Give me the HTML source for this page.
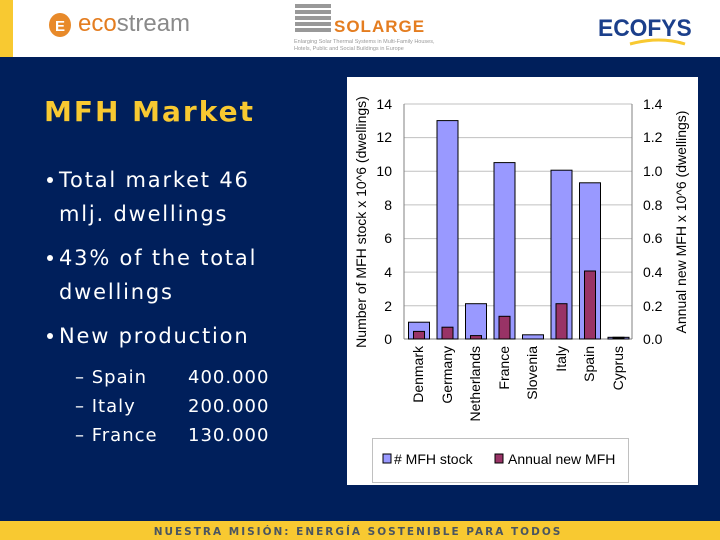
<!DOCTYPE html>
<html><head><meta charset="utf-8"><style>
body{margin:0;width:720px;height:540px;overflow:hidden;background:#001f5b}
svg{display:block}
</style></head><body>
<svg width="720" height="540" xmlns="http://www.w3.org/2000/svg" font-family="Liberation Sans, Arial, sans-serif">
<rect x="0" y="0" width="720" height="57" fill="#fff"/>
<rect x="0" y="0" width="13" height="57" fill="#f8c931"/>
<rect x="0" y="57" width="720" height="464" fill="#001f5b"/>
<rect x="0" y="521" width="720" height="19" fill="#f8c931"/>
<text x="358" y="535" text-anchor="middle" font-family="DejaVu Sans, sans-serif" font-weight="bold" font-size="10.5" letter-spacing="2" fill="#4a5560">NUESTRA MISIÓN:  ENERGÍA SOSTENIBLE PARA TODOS</text>
<!-- logos -->
<ellipse cx="60" cy="25" rx="11" ry="12" fill="#e88a2a"/>
<text x="55" y="31" font-size="15" font-weight="bold" fill="#fff">E</text>
<text x="78" y="31" font-size="24" fill="#8a8a8a"><tspan fill="#e47d20">eco</tspan>stream</text>
<g fill="#999"><rect x="295" y="4" width="36" height="4"/><rect x="295" y="10" width="36" height="4"/><rect x="295" y="16" width="36" height="4"/><rect x="295" y="22" width="36" height="4"/><rect x="295" y="28" width="36" height="4"/></g>
<text x="334" y="32" font-size="17" font-weight="bold" fill="#e47d20" letter-spacing="1">SOLARGE</text>
<text x="294" y="43" font-size="5.5" fill="#999">Enlarging Solar Thermal Systems in Multi-Family Houses,</text>
<text x="294" y="50" font-size="5.5" fill="#999">Hotels, Public and Social Buildings in Europe</text>
<text x="598" y="36" font-size="24" font-weight="bold" fill="#1b3f8b" transform="scale(0.95,1)" style="transform-origin:598px 36px">ECOFYS</text>
<path d="M630 44 Q660 36 685 44" stroke="#f8c931" stroke-width="3" fill="none"/>
<!-- left text -->
<g font-family="DejaVu Sans, Verdana, sans-serif">
<text x="44" y="121" font-size="28" font-weight="bold" fill="#f8c931" letter-spacing="2">MFH Market</text>
<g fill="#fff" font-size="21" letter-spacing="1.8">
<circle cx="50" cy="180" r="3"/><text x="59" y="187">Total market 46</text>
<text x="59" y="221">mlj. dwellings</text>
<circle cx="50" cy="258" r="3"/><text x="59" y="265">43% of the total</text>
<text x="59" y="299">dwellings</text>
<circle cx="50" cy="336" r="3"/><text x="59" y="343">New production</text>
</g>
<g fill="#fff" font-size="18" letter-spacing="1">
<text x="75" y="383">– Spain</text><text x="188" y="383">400.000</text>
<text x="75" y="412">– Italy</text><text x="188" y="412">200.000</text>
<text x="75" y="441">– France</text><text x="188" y="441">130.000</text>
</g>
</g>
<!-- chart -->
<rect x="347" y="77" width="351" height="408" fill="#fff"/>
<g stroke="#c0c0c0" stroke-width="1">
<line x1="404" x2="632" y1="104" y2="104"/><line x1="404" x2="632" y1="137.6" y2="137.6"/>
<line x1="404" x2="632" y1="171.3" y2="171.3"/><line x1="404" x2="632" y1="204.9" y2="204.9"/>
<line x1="404" x2="632" y1="238.6" y2="238.6"/><line x1="404" x2="632" y1="272.1" y2="272.1"/>
<line x1="404" x2="632" y1="305.7" y2="305.7"/>
</g>
<g stroke="#808080" stroke-width="1" fill="none">
<line x1="404" y1="104" x2="404" y2="339"/><line x1="632" y1="104" x2="632" y2="339"/>
<line x1="404" y1="339" x2="632" y2="339"/>
</g>
<g stroke="#000" stroke-width="1" fill="#9999ff">
<rect x="408.5" y="322.2" width="21" height="16.8"/>
<rect x="437" y="120.6" width="21" height="218.4"/>
<rect x="465.5" y="303.7" width="21" height="35.3"/>
<rect x="494" y="162.6" width="21" height="176.4"/>
<rect x="522.5" y="334.8" width="21" height="4.2"/>
<rect x="551" y="170.2" width="21" height="168.8"/>
<rect x="579.5" y="182.8" width="21" height="156.2"/>
<rect x="608" y="337.3" width="21" height="1.7"/>
</g>
<g stroke="#000" stroke-width="1" fill="#993366">
<rect x="413.5" y="331.4" width="11" height="7.6"/>
<rect x="442" y="327.2" width="11" height="11.8"/>
<rect x="470.5" y="335.6" width="11" height="3.4"/>
<rect x="499" y="316.3" width="11" height="22.7"/>
<rect x="556" y="303.7" width="11" height="35.3"/>
<rect x="584.5" y="271" width="11" height="68"/>
<rect x="613" y="337.3" width="11" height="1.7" fill="#000"/>
</g>
<g font-size="14" fill="#000" text-anchor="end">
<text x="392" y="109">14</text><text x="392" y="142">12</text><text x="392" y="176">10</text>
<text x="392" y="210">8</text><text x="392" y="243">6</text><text x="392" y="277">4</text>
<text x="392" y="311">2</text><text x="392" y="344">0</text>
</g>
<g font-size="14" fill="#000">
<text x="643" y="109">1.4</text><text x="643" y="142">1.2</text><text x="643" y="176">1.0</text>
<text x="643" y="210">0.8</text><text x="643" y="243">0.6</text><text x="643" y="277">0.4</text>
<text x="643" y="311">0.2</text><text x="643" y="344">0.0</text>
</g>
<text transform="translate(366,222) rotate(-90)" text-anchor="middle" font-size="14">Number of MFH stock x 10^6 (dwellings)</text>
<text transform="translate(686,222) rotate(-90)" text-anchor="middle" font-size="14">Annual new MFH x 10^6 (dwellings)</text>
<g font-size="14" text-anchor="end">
<text transform="translate(423,346) rotate(-90)">Denmark</text>
<text transform="translate(452,346) rotate(-90)">Germany</text>
<text transform="translate(480,346) rotate(-90)">Netherlands</text>
<text transform="translate(509,346) rotate(-90)">France</text>
<text transform="translate(537,346) rotate(-90)">Slovenia</text>
<text transform="translate(566,346) rotate(-90)">Italy</text>
<text transform="translate(594,346) rotate(-90)">Spain</text>
<text transform="translate(623,346) rotate(-90)">Cyprus</text>
</g>
<rect x="372.5" y="438.5" width="256" height="44" fill="none" stroke="#c0c0c0"/>
<rect x="383" y="454" width="8" height="9" fill="#9999ff" stroke="#000"/>
<text x="394" y="464" font-size="14">#  MFH stock</text>
<rect x="495" y="454" width="8" height="9" fill="#993366" stroke="#000"/>
<text x="508" y="464" font-size="14">Annual new  MFH</text>
</svg>
</body></html>
